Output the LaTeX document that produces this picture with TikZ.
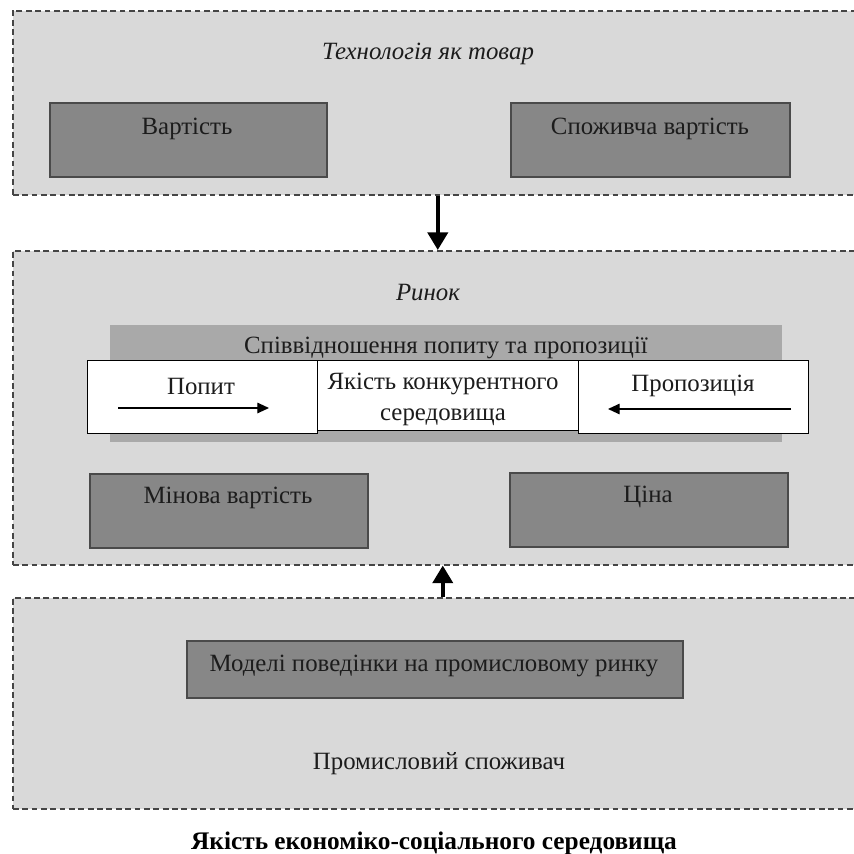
\documentclass[tikz,border=0pt]{standalone}
\usepackage{fontspec}
\setmainfont{Liberation Serif}
\usepackage{tikz}
\usetikzlibrary{arrows.meta,positioning}
\usepackage{color}

\definecolor{panelgray}{HTML}{D9D9D9}
\definecolor{dashgray}{HTML}{454545}
\definecolor{boxgray}{HTML}{878787}
\definecolor{boxline}{HTML}{4A4A4A}
\definecolor{bargray}{HTML}{A9A9A9}
\definecolor{inktext}{HTML}{1C1C1C}

\newdimen\px
\px=0.3mm

\tikzset{
  panel/.style={draw=dashgray, fill=panelgray, line width=1.3pt,
    dash pattern=on 5pt off 3pt, anchor=north west, inner sep=0pt,
    minimum width=850*\px},
  darkbox/.style={draw=boxline, fill=boxgray, line width=1.3pt,
    anchor=north west, inner sep=0pt},
  whitebox/.style={draw=black, fill=white, line width=1.1pt,
    anchor=north west, inner sep=0pt, minimum height=73*\px},
  txt/.style={font=\fontsize{21.2}{23.5}\selectfont, text=inktext, inner sep=0pt},
  ttl/.style={txt, font=\fontsize{21.2}{23.5}\selectfont\itshape},
  bigarrow/.style={line width=3.4pt, -{Triangle[width=17pt,length=15pt]}},
  smallarrow/.style={line width=1.2pt, -{Triangle[width=9pt,length=10pt]}}
}

\begin{document}
\begin{tikzpicture}[x=0.3mm,y=-0.3mm]
  \fill[white] (0,0) rectangle (853,854);
  \useasboundingbox (0,0) rectangle (853,854); %page size

  % technology as a commodity
  \node[panel, minimum height=184*\px] (tech) at (12,10) {};
  \node[ttl] (techtitle) at (428,54) {Технологія як товар};
  \node[darkbox, minimum width=277*\px, minimum height=74*\px] (value) at (49,102) {};
  \node[txt] at (187,129) {Вартість};
  \node[darkbox, minimum width=279*\px, minimum height=74*\px] (usevalue) at (510,102) {};
  \node[txt] at (650,129) {Споживча вартість};

  % market
  \node[panel, minimum height=314*\px] (market) at (12,250) {};
  \node[ttl] (markettitle) at (428,293) {Ринок};
  \fill[bargray] (110,325) rectangle (782,442);
  \node[txt] (bartitle) at (446,348) {Співвідношення попиту та пропозиції};

  \node[whitebox, minimum width=230*\px] (demand) at (87,360) {};
  \node[whitebox, minimum width=261*\px, minimum height=70*\px] (quality) at (317,360) {};
  \node[whitebox, minimum width=230*\px] (supply) at (578,360) {};
  \node[txt] at (201,386) {Попит};
  \node[txt, align=center] at (443,399) {Якість конкурентного\\[3pt]середовища};
  \node[txt] at (693,386) {Пропозиція};

  \coordinate (demandA) at (118,408);
  \coordinate (demandB) at (269,408);
  \coordinate (supplyA) at (791,409);
  \coordinate (supplyB) at (608,409);
  \draw[smallarrow] (demandA) -- (demandB);
  \draw[smallarrow] (supplyA) -- (supplyB);

  \node[darkbox, minimum width=278*\px, minimum height=74*\px] (exchange) at (89,473) {};
  \node[txt] at (228,498) {Мінова вартість};
  \node[darkbox, minimum width=278*\px, minimum height=74*\px] (price) at (509,472) {};
  \node[txt] at (648,497) {Ціна};

  % industrial consumer
  \node[panel, minimum height=211*\px] (consumer) at (12,597) {};
  \node[darkbox, minimum width=496*\px, minimum height=57*\px] (models) at (186,640) {};
  \node[txt] at (434,666) {Моделі поведінки на промисловому ринку};
  \node[txt] (consumertitle) at (439,764) {Промисловий споживач};

  % arrows between levels
  \draw[bigarrow] (tech.south) -- (market.north);
  \draw[bigarrow] ([xshift=5*\px]consumer.north) -- ([xshift=5*\px]market.south);

  \node[txt, font=\fontsize{21.6}{24}\selectfont\bfseries, text=black] (caption) at (434,843)
    {Якість економіко-соціального середовища};
\end{tikzpicture}
\end{document}
